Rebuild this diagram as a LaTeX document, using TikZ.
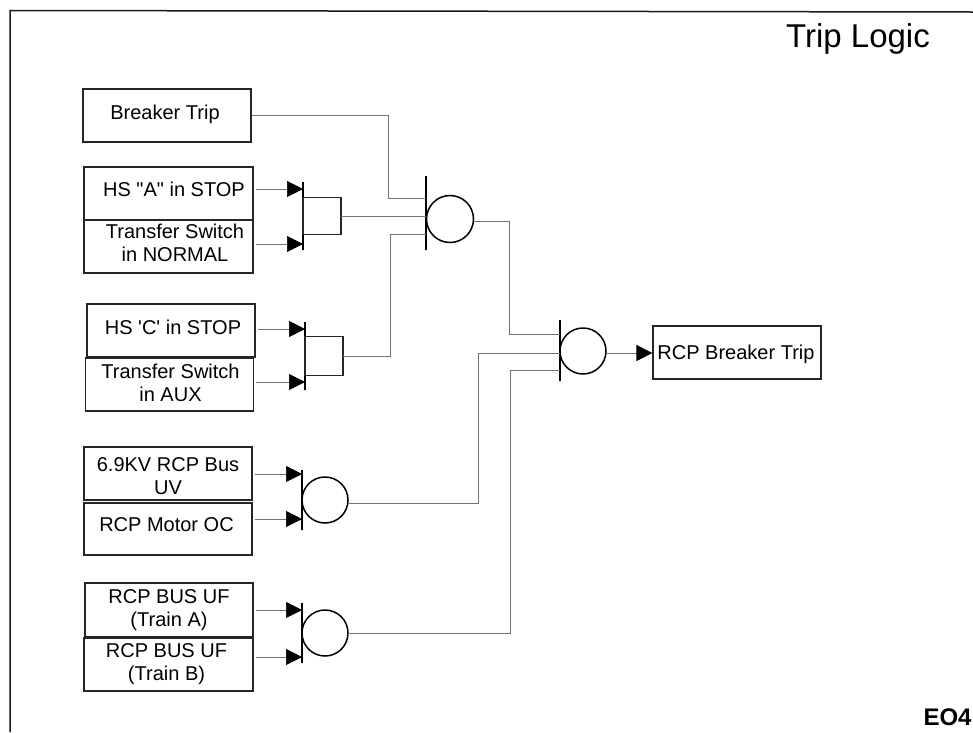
\documentclass[tikz,border=0pt]{standalone}
\usepackage{fontspec}
\setmainfont{Liberation Sans}[Ligatures=TeXOff]
\usetikzlibrary{arrows.meta,calc}
\tikzset{
  x=1pt,y=-1pt,
  box/.style={draw=black!85,line width=1.2pt,rectangle,inner sep=0pt,minimum height=53pt,minimum width=168pt},
  txt/.style={inner sep=0pt,font=\fontsize{20}{23}\selectfont,align=center},
  wire/.style={draw=black!55,line width=0.7pt},
  feed/.style={wire,-{Triangle[length=16pt,width=16pt,color=black,fill=black]}},
  bar/.style={draw=black,line width=1.1pt,rectangle,inner sep=0pt,minimum width=0pt,outer sep=0pt},
  orgate/.style={draw=black,line width=1.5pt,circle,inner sep=0pt,minimum size=46pt,outer sep=0pt},
  andbody/.style={draw=black!85,line width=1.1pt,rectangle,inner sep=0pt,minimum width=38pt,minimum height=38pt,outer sep=0pt},
}
\begin{document}
\begin{tikzpicture}
\useasboundingbox (0,0) rectangle (973,732);
\coordinate (ftl) at (10,10.5); \coordinate (fbl) at (10,732); \coordinate (ftr) at (973,12);
\draw[draw=black!90,line width=1.5pt] (fbl) -- (ftl) -- (ftr);

\node[inner sep=0pt,font=\fontsize{33}{36}\selectfont] (title) at (858,39) {Trip Logic};
\node[inner sep=0pt,font=\bfseries\fontsize{24}{26}\selectfont] (eo) at (947.5,717) {EO4};

% boxes
\node[box] (bt) at (167,115.5) {};
\node[box,minimum width=169pt] (hsa) at (168.5,193.5) {};
\node[box,minimum width=169pt] (tsn) at (168.5,246.5) {};
\node[box] (hsc) at (171,330.5) {};
\node[box] (tsa) at (169.5,384.5) {};
\node[box] (bus) at (168,473.5) {};
\node[box,minimum height=52pt] (mot) at (168,529) {};
\node[box,minimum height=54pt] (tra) at (169,610) {};
\node[box,minimum width=169pt] (trb) at (168.5,664.5) {};
\node[box] (rcp) at (737,352.5) {};

% texts
\node[txt] (tbt) at (165,114.5) {Breaker Trip};
\node[txt] (thsa) at (174,189) {HS "A" in STOP};
\node[txt] (ttsn) at (175,242.5) {Transfer Switch\\in NORMAL};
\node[txt] (thsc) at (173,327) {HS 'C' in STOP};
\node[txt] (ttsa) at (170.5,382.5) {Transfer Switch\\in AUX};
\node[txt] (tbus) at (168,476.5) {6.9KV RCP Bus\\UV};
\node[txt] (tmot) at (166.5,525) {RCP Motor OC};
\node[txt] (ttra) at (169,610.5) {RCP BUS UF\\(Train A)};
\node[txt] (ttrb) at (166.5,664.5) {RCP BUS UF\\(Train B)};
\node[txt] (trcp) at (736,354) {RCP Breaker Trip};

% AND gates
\node[bar,minimum height=68pt] (b1) at (303,216) {};
\node[andbody,anchor=west,minimum height=37pt] (a1) at (b1.center) {};
\node[bar,minimum height=68pt] (b2) at (305,356) {};
\node[andbody,anchor=west,minimum height=39pt] (a2) at (b2.center) {};

% OR gates
\node[bar,minimum height=74pt] (b3) at (426,213) {};
\node[orgate,minimum size=47pt] (o3) at (450,219) {};
\node[bar,minimum height=61pt] (b4) at (560,350.5) {};
\node[orgate] (o4) at (583,351) {};
\node[bar,minimum height=60pt] (b5) at (302,500) {};
\node[orgate] (o5) at (325,500) {};
\node[bar,minimum height=60pt] (b6) at (302,633) {};
\node[orgate] (o6) at (325,633) {};

% input arrows
\foreach \src/\bar/\ya in {hsa/b1/189,tsn/b1/244,hsc/b2/329,tsa/b2/382,bus/b5/474,mot/b5/519,tra/b6/610,trb/b6/657}
  \draw[feed] (\src.east |- 0,\ya) ++(2,0) -- (\bar.west |- 0,\ya);

% wires
\coordinate (j1) at (388,115.5);
\coordinate (j1b) at (388,198);
\draw[wire] (bt.east) -- (j1) -- (j1b) -- (b3.west |- j1b);
\draw[wire] (a1.east) -- (b3.west |- a1.east);
\coordinate (j2) at (390,356);
\coordinate (j2b) at (390,234);
\draw[wire] (a2.east) -- (j2) -- (j2b) -- (b3.west |- j2b);
\coordinate (j3) at (509,221);
\coordinate (j3b) at (509,334);
\draw[wire] (o3.east |- j3) -- (j3) -- (j3b) -- (b4.west |- j3b);
\coordinate (j4) at (478,503);
\coordinate (j4b) at (478,353);
\draw[wire] (o5.east |- j4) -- (j4) -- (j4b) -- (b4.west |- j4b);
\coordinate (j5) at (510,633);
\coordinate (j5b) at (510,370);
\draw[wire] (o6.east) -- (j5) -- (j5b) -- (b4.west |- j5b);
\draw[feed] (o4.east |- 0,353) -- (rcp.west |- 0,353);
\end{tikzpicture}
\end{document}
